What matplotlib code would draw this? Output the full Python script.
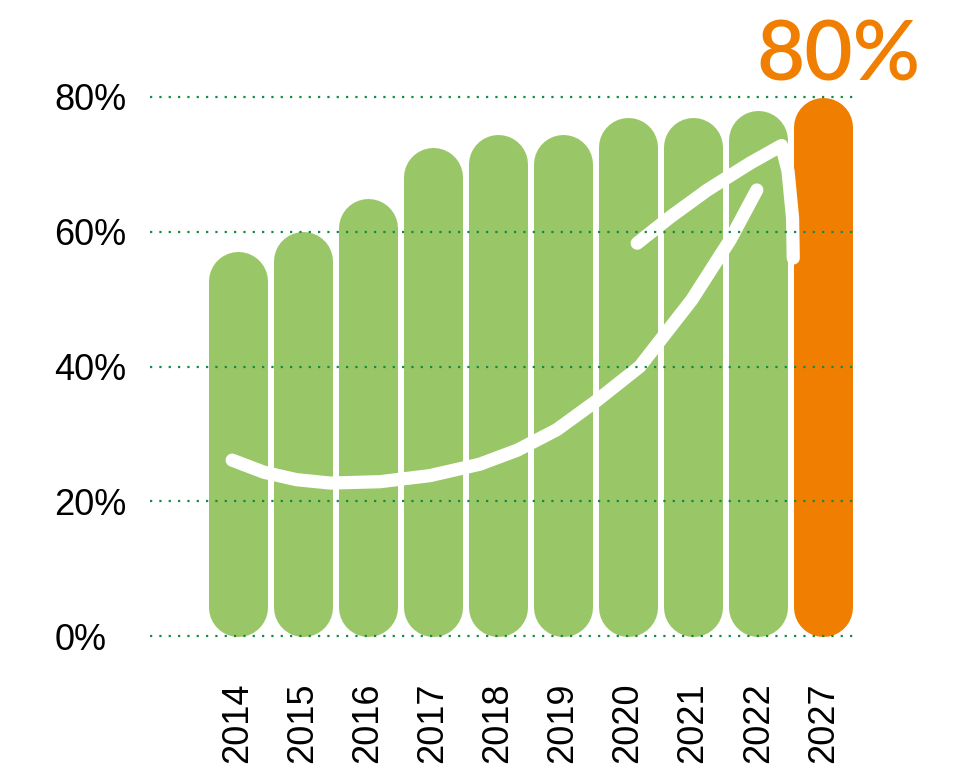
import matplotlib
matplotlib.use("Agg")
import matplotlib.pyplot as plt
from matplotlib.transforms import blended_transform_factory

years = ["2014", "2015", "2016", "2017", "2018", "2019", "2020", "2021", "2022", "2027"]
shares = [57, 60, 65, 72.5, 74.5, 74.5, 77, 77, 78, 80]
highlight = "2027"
headline = "80%"
y_ticks = [0, 20, 40, 60, 80]

# hand-drawn arrow (decoration), in (bar index, %) coordinates
arrow_curve = [(-0.09, 26.1), (0.4, 24.3), (0.9, 23.2), (1.42, 22.7), (2.18, 22.9),
               (2.95, 23.8), (3.72, 25.5), (4.3, 27.6), (4.9, 30.6), (5.5, 34.8),
               (6.18, 40.0), (6.98, 49.9), (7.57, 58.8), (7.98, 66.2)]
arrow_head = [(6.14, 58.3), (6.65, 62.2), (7.22, 66.2), (7.88, 70.2), (8.36, 72.8),
              (8.46, 69.0), (8.53, 62.0), (8.54, 56.1)]

GREEN = "#99c666"
ORANGE = "#f07e00"
GRID = "#138a48"

plt.rcParams["font.family"] = ["Liberation Sans", "DejaVu Sans"]

W, H = 958, 767
fig = plt.figure(figsize=(W / 100, H / 100), dpi=100)
ax = fig.add_axes([150 / W, (H - 636) / H, (855 - 150) / W, (636 - 97) / H])
ax.set_xlim(-1.354, 9.49)
ax.set_ylim(0, 80)

bar_px = 59
px_per_unit = (636 - 97) / 80
r = bar_px / 2 / px_per_unit
lw = bar_px * 72 / 100
for i, (yr, v) in enumerate(zip(years, shares)):
    col = ORANGE if yr == highlight else GREEN
    ax.plot([i, i], [r, v - r], color=col, lw=lw, solid_capstyle="round",
            zorder=1, clip_on=False)

for path in (arrow_curve, arrow_head):
    xs, ys = zip(*path)
    ax.plot(xs, ys, color="white", lw=9.5, solid_capstyle="round",
            solid_joinstyle="round", zorder=2)

for t in y_ticks:
    ax.axhline(t, color=GRID, lw=1.6, linestyle=(0, (1, 3.2)), zorder=3, clip_on=False)

ax.text(len(years) - 1 + 0.24, 82.5, headline, color=ORANGE, fontsize=60,
        family=["Lato", "DejaVu Sans"], fontweight="semibold",
        ha="center", va="baseline", clip_on=False)

ax.set_yticks(y_ticks)
ax.set_yticklabels([f"{t}%" for t in y_ticks], fontsize=26, ha="left")
ax.tick_params(axis="y", length=0, pad=69)

# year labels sit on a common bottom line
ax.set_xticks([])
tr = blended_transform_factory(ax.transData, ax.transAxes)
for i, yr in enumerate(years):
    ax.text(i, (636 - 763) / (636 - 97), yr, transform=tr, rotation=90,
            fontsize=26, ha="center", va="bottom")

for s in ax.spines.values():
    s.set_visible(False)

fig.savefig("out.png", dpi=100)
